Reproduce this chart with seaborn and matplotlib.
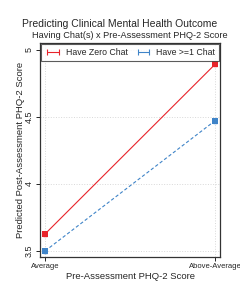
import matplotlib
matplotlib.use("Agg")
import matplotlib.pyplot as plt
import seaborn as sns
import pandas as pd
from matplotlib.lines import Line2D

sns.set_theme(style="white")
plt.rcParams['font.family'] = ['Liberation Sans', 'DejaVu Sans']

categories = ["Average", "Above-Average"]
zero_chat = [3.627, 4.89]
zero_err = [0.012, 0.012]
ge1_chat = [3.50, 4.47]
ge1_err = [0.012, 0.015]

df = pd.DataFrame({
    "x": [0, 1, 0, 1],
    "y": zero_chat + ge1_chat,
    "grp": ["Have Zero Chat"] * 2 + ["Have >=1 Chat"] * 2,
})

red = "#e8232a"
blue = "#3f84c8"

fig = plt.figure(figsize=(2.4, 3.0), dpi=100)
ax = fig.add_axes([40/240, 1 - 257/300, 180/240, 214/300])

ax.grid(True, color="#d8d8d8", linestyle=":", linewidth=0.7)
ax.set_axisbelow(True)

sns.lineplot(data=df, x="x", y="y", hue="grp", style="grp",
             hue_order=["Have Zero Chat", "Have >=1 Chat"],
             palette={"Have Zero Chat": red, "Have >=1 Chat": blue},
             dashes={"Have Zero Chat": "", "Have >=1 Chat": (3, 2)},
             markers={"Have Zero Chat": "s", "Have >=1 Chat": "s"},
             markersize=4, markeredgewidth=0, linewidth=0.8, ax=ax, legend=False)
ax.errorbar([0, 1], zero_chat, yerr=zero_err, fmt="none", ecolor=red, elinewidth=0.6, capsize=1.5)
ax.errorbar([0, 1], ge1_chat, yerr=ge1_err, fmt="none", ecolor=blue, elinewidth=0.6, capsize=1.5)

ax.set_xlim(-0.03, 1.03)
ax.set_ylim(3.455, 5.05)
ax.set_xticks([0, 1])
ax.set_xticklabels(categories, fontsize=5.5)
ax.set_yticks([3.5, 4, 4.5, 5])
ax.set_yticklabels(["3.5", "4", "4.5", "5"], fontsize=6.5, rotation=90, va="center")
ax.tick_params(axis="both", length=3, width=0.6, pad=1.5, color="black", bottom=True, left=True)
for s in ax.spines.values():
    s.set_color("#333333")
    s.set_linewidth(0.9)

ax.set_xlabel("Pre-Assessment PHQ-2 Score", fontsize=6.8, labelpad=1)
ax.set_ylabel("Predicted Post-Assessment PHQ-2 Score", fontsize=6.8)
ax.yaxis.set_label_coords(-0.085, 0.5)

handles = [
    Line2D([0, 1], [0, 0], color=red, lw=0.8, marker="|", markersize=4, markeredgewidth=0.8),
    Line2D([0, 1], [0, 0], color=blue, lw=0.8, marker="|", markersize=4, markeredgewidth=0.8),
]
leg = ax.legend(handles=handles, labels=["Have Zero Chat", "Have >=1 Chat"], ncol=2,
                loc="upper center", bbox_to_anchor=(0.5, 0.995),
                fontsize=6.3, frameon=True, fancybox=False,
                edgecolor="#333333", handlelength=1.9, handletextpad=0.5, columnspacing=0.9,
                borderpad=0.45, borderaxespad=0.0, numpoints=2)
leg.get_frame().set_linewidth(0.8)

fig.text(0.5, 1 - 24/300, "Predicting Clinical Mental Health Outcome", ha="center", va="center", fontsize=7.45)
fig.text(130/240, 1 - 36/300, "Having Chat(s) x Pre-Assessment PHQ-2 Score", ha="center", va="center", fontsize=6.55)

fig.savefig("out.png", dpi=100, facecolor="white")
